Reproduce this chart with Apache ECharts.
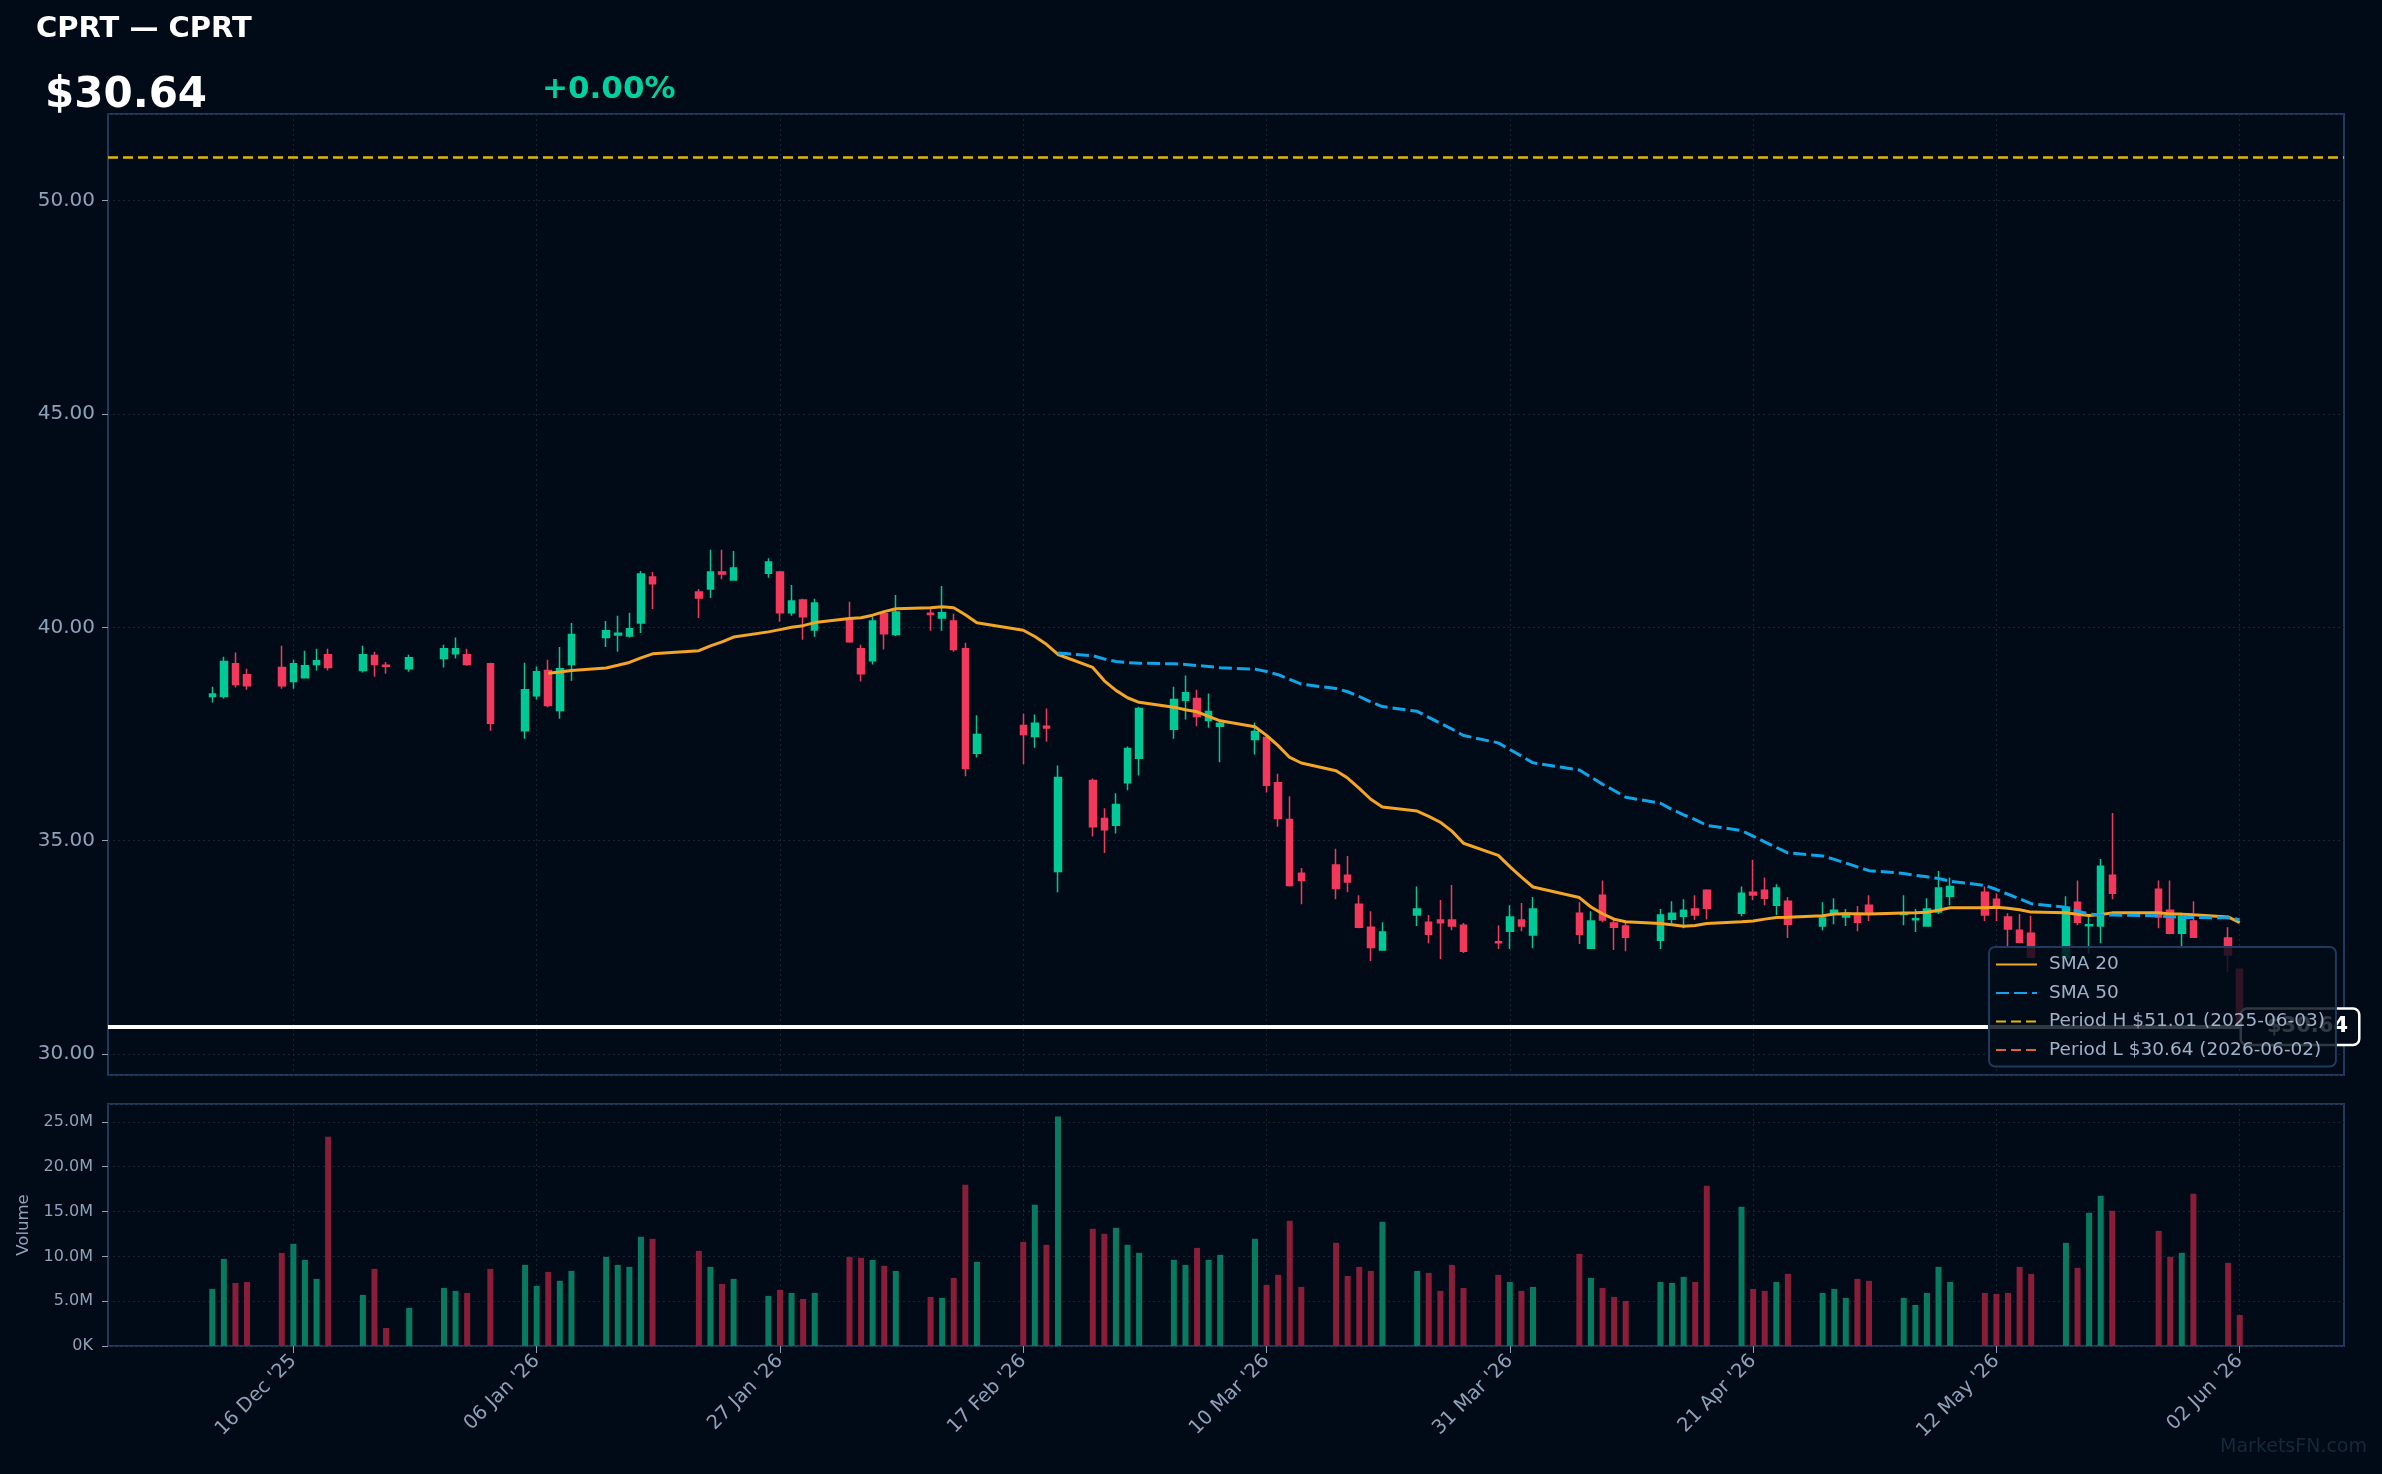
<!DOCTYPE html>
<html>
<head>
<meta charset="utf-8">
<title>CPRT</title>
<script src="https://cdn.jsdelivr.net/npm/echarts@6/dist/echarts.min.js"></script>
<style>
  html, body { margin: 0; padding: 0; background: #010b17; }
  #chart { width: 2382px; height: 1474px; }
</style>
</head>
<body>
<div id="chart"></div>
<script>
// trading days shown on the chart
var tradeDates = [
  '2025-12-09','2025-12-10','2025-12-11','2025-12-12','2025-12-15','2025-12-16','2025-12-17','2025-12-18','2025-12-19',
  '2025-12-22','2025-12-23','2025-12-24','2025-12-26','2025-12-29','2025-12-30','2025-12-31',
  '2026-01-02','2026-01-05','2026-01-06','2026-01-07','2026-01-08','2026-01-09','2026-01-12','2026-01-13','2026-01-14',
  '2026-01-15','2026-01-16','2026-01-20','2026-01-21','2026-01-22','2026-01-23','2026-01-26','2026-01-27','2026-01-28',
  '2026-01-29','2026-01-30',
  '2026-02-02','2026-02-03','2026-02-04','2026-02-05','2026-02-06','2026-02-09','2026-02-10','2026-02-11','2026-02-12',
  '2026-02-13','2026-02-17','2026-02-18','2026-02-19','2026-02-20','2026-02-23','2026-02-24','2026-02-25','2026-02-26',
  '2026-02-27',
  '2026-03-02','2026-03-03','2026-03-04','2026-03-05','2026-03-06','2026-03-09','2026-03-10','2026-03-11','2026-03-12',
  '2026-03-13','2026-03-16','2026-03-17','2026-03-18','2026-03-19','2026-03-20','2026-03-23','2026-03-24','2026-03-25',
  '2026-03-26','2026-03-27','2026-03-30','2026-03-31',
  '2026-04-01','2026-04-02','2026-04-06','2026-04-07','2026-04-08','2026-04-09','2026-04-10','2026-04-13','2026-04-14',
  '2026-04-15','2026-04-16','2026-04-17','2026-04-20','2026-04-21','2026-04-22','2026-04-23','2026-04-24','2026-04-27',
  '2026-04-28','2026-04-29','2026-04-30',
  '2026-05-01','2026-05-04','2026-05-05','2026-05-06','2026-05-07','2026-05-08','2026-05-11','2026-05-12','2026-05-13',
  '2026-05-14','2026-05-15','2026-05-18','2026-05-19','2026-05-20','2026-05-21','2026-05-22','2026-05-26','2026-05-27',
  '2026-05-28','2026-05-29',
  '2026-06-01','2026-06-02'
];

var opens = [
  38.38,38.38,39.15,38.89,39.06,38.73,38.82,39.13,39.36,38.99,39.34,39.11,39.03,39.27,39.38,39.36,
  39.15,37.58,38.40,38.99,38.05,39.13,39.76,39.82,39.80,40.10,41.18,40.83,40.90,41.30,41.11,41.27,41.30,40.34,40.64,39.94,
  40.20,39.50,39.22,40.32,39.83,40.33,40.22,40.15,39.50,37.05,37.70,37.44,37.68,34.28,36.41,35.52,35.36,36.36,36.93,
  37.61,38.29,38.33,37.82,37.68,37.37,37.42,36.36,35.50,34.24,34.43,34.19,33.51,32.97,32.44,33.26,33.09,33.14,33.14,33.02,32.63,32.88,
  33.14,32.79,33.30,32.48,33.72,33.07,33.00,32.67,33.16,33.23,33.40,33.84,33.30,33.79,33.84,33.49,33.58,33.00,33.30,33.21,33.26,
  33.49,33.27,33.15,33.00,33.33,33.70,33.79,33.63,33.21,32.90,32.83,32.25,33.56,33.01,33.00,34.19,33.86,33.37,32.83,33.12,
  32.72,31.99
];
var closes = [
  38.44,39.20,38.66,38.63,38.63,39.15,39.10,39.22,39.06,39.36,39.13,39.09,39.29,39.50,39.50,39.13,
  37.75,38.54,38.96,38.17,39.03,39.83,39.92,39.86,39.97,41.25,41.02,40.69,41.30,41.25,41.39,41.53,40.34,40.62,40.25,40.57,
  39.66,38.91,40.15,39.85,40.36,40.30,40.34,39.48,36.69,37.49,37.49,37.75,37.64,36.48,35.33,35.26,35.85,37.16,38.10,
  38.31,38.47,37.91,38.03,37.75,37.56,36.30,35.52,33.95,34.07,33.88,34.03,32.97,32.50,32.86,33.40,32.81,33.08,33.00,32.41,32.61,33.21,
  33.00,33.40,32.81,33.12,33.14,32.97,32.74,33.26,33.30,33.37,33.26,33.42,33.77,33.73,33.65,33.89,33.04,33.19,33.37,33.30,33.09,
  33.28,33.29,33.17,33.40,33.89,33.93,33.26,33.47,32.93,32.62,32.27,33.44,33.09,33.03,34.40,33.77,33.21,32.83,33.23,32.74,
  32.32,30.64
];
var lows = [
  38.24,38.33,38.59,38.54,38.56,38.56,38.82,38.99,38.99,38.94,38.84,38.91,38.96,39.06,39.27,39.10,
  37.58,37.39,38.31,38.13,37.86,38.75,39.54,39.43,39.76,39.87,40.43,40.22,40.69,41.13,41.09,41.16,40.13,40.27,39.71,39.78,
  39.64,38.73,39.13,39.48,39.80,39.92,39.92,39.43,36.51,36.95,36.79,37.18,37.32,33.79,35.10,34.71,35.17,36.18,36.53,
  37.39,37.84,37.68,37.65,36.84,37.02,36.13,35.33,33.93,33.51,33.63,33.79,32.95,32.18,32.44,33.00,32.60,32.23,32.90,32.37,32.46,32.46,
  32.88,32.48,32.58,32.48,33.09,32.44,32.41,32.46,33.07,32.95,33.14,33.16,33.23,33.61,33.49,33.26,32.72,32.90,33.04,33.00,32.88,
  33.12,33.02,32.86,33.00,33.28,33.49,33.12,33.12,32.53,32.60,32.25,32.15,33.02,32.35,32.60,33.63,32.95,32.81,32.51,32.72,
  31.92,30.64
];
var highs = [
  38.61,39.31,39.41,39.03,39.57,39.24,39.45,39.50,39.50,39.57,39.43,39.19,39.36,39.59,39.76,39.50,
  39.17,39.17,39.08,39.24,39.54,40.10,40.15,40.27,40.34,41.32,41.30,40.90,41.82,41.82,41.79,41.62,41.32,40.99,40.67,40.67,
  40.60,39.59,40.25,40.39,40.76,40.44,40.97,40.32,39.64,37.94,37.98,37.96,38.10,36.76,36.46,35.76,36.11,37.21,38.14,
  38.61,38.87,38.54,38.45,37.82,37.77,37.45,36.57,36.04,34.36,34.81,34.64,33.72,33.35,33.09,33.93,33.26,33.61,33.96,33.07,33.02,33.49,
  33.54,33.68,33.56,33.35,34.07,33.14,33.07,33.40,33.58,33.63,33.72,33.86,33.93,34.55,34.14,33.98,33.68,33.56,33.65,33.40,33.47,
  33.72,33.72,33.40,33.65,34.29,34.14,33.93,33.77,33.30,33.28,33.24,33.70,34.07,33.24,34.57,35.65,34.07,34.07,33.26,33.58,
  32.97,32.00
];
// volume, millions of shares
var volumes = [
  6.37,9.72,7.04,7.15,10.39,11.40,9.61,7.49,23.36,5.70,8.61,2.01,4.25,6.48,6.15,5.92,
  8.61,9.05,6.71,8.27,7.27,8.38,9.95,9.05,8.83,12.18,11.96,10.62,8.83,6.93,7.49,5.59,6.26,5.92,5.25,5.92,
  9.95,9.84,9.61,8.94,8.38,5.48,5.37,7.60,18.00,9.39,11.62,15.76,11.29,25.60,13.08,12.52,13.19,11.29,10.39,
  9.61,9.05,10.95,9.61,10.17,11.96,6.82,7.94,13.97,6.59,11.51,7.82,8.83,8.38,13.86,8.38,8.16,6.15,9.05,6.48,7.94,7.15,
  6.15,6.59,10.28,7.60,6.48,5.48,5.03,7.15,7.04,7.71,7.15,17.88,15.54,6.37,6.15,7.15,8.05,5.92,6.37,5.37,7.49,
  7.27,5.37,4.58,5.92,8.83,7.15,5.92,5.81,5.92,8.83,8.05,11.51,8.72,14.87,16.77,15.09,12.85,9.95,10.39,16.99,
  9.28,3.46
];

var xTickDates = ['2025-12-16','2026-01-06','2026-01-27','2026-02-17','2026-03-10','2026-03-31','2026-04-21','2026-05-12','2026-06-02'];
var axisStart = '2025-11-30', axisEnd = '2026-06-11';

var lastPrice = 30.64;
var periodHigh = 51.01, periodHighDate = '2025-06-03';
var periodLow = 30.64, periodLowDate = '2026-06-02';
var headerTitle = 'CPRT \u2014 CPRT';
var headerPrice = '$30.64';
var headerChange = '+0.00%';

var UP = '#00c896', DOWN = '#f2395b';
var VOL_UP = '#077a5f', VOL_DOWN = '#8a1d37';
var FONT = '"DejaVu Sans", sans-serif';
var LABEL = '#8ea2b9';
var MONTHS = ['Jan','Feb','Mar','Apr','May','Jun','Jul','Aug','Sep','Oct','Nov','Dec'];

function dayList(start, end) {
  var out = [];
  var d = new Date(start + 'T00:00:00Z'), e = new Date(end + 'T00:00:00Z');
  while (d <= e) {
    out.push(d.toISOString().slice(0, 10));
    d.setUTCDate(d.getUTCDate() + 1);
  }
  return out;
}
function fmtDate(s) {
  var p = s.split('-');
  return p[2] + ' ' + MONTHS[+p[1] - 1] + " '" + p[0].slice(2);
}
function sma(n) {
  var out = [];
  for (var i = 0; i < closes.length; i++) {
    if (i < n - 1) { out.push(null); continue; }
    var s = 0;
    for (var j = i - n + 1; j <= i; j++) s += closes[j];
    out.push(s / n);
  }
  return out;
}

var calendar = dayList(axisStart, axisEnd);
var pos = {};
tradeDates.forEach(function (d, i) { pos[d] = i; });

var sma20 = sma(20), sma50 = sma(50);

var candleData = calendar.map(function (d) {
  var i = pos[d];
  return i === undefined ? '-' : [opens[i], closes[i], lows[i], highs[i]];
});
var volData = calendar.map(function (d) {
  var i = pos[d];
  if (i === undefined) return '-';
  return { value: volumes[i] * 1e6, itemStyle: { color: closes[i] >= opens[i] ? VOL_UP : VOL_DOWN } };
});
function onCalendar(arr) {
  return calendar.map(function (d) {
    var i = pos[d];
    return (i === undefined || arr[i] == null) ? '-' : arr[i];
  });
}

function isTick(idx, val) { return xTickDates.indexOf(val) >= 0; }

var gridLine = { show: true, lineStyle: { color: '#142538', type: [2, 3], width: 1 } };

var chart = echarts.init(document.getElementById('chart'), null, { renderer: 'canvas' });

var option = {
  backgroundColor: '#010b17',
  animation: false,
  textStyle: { fontFamily: FONT },
  graphic: [
    { type: 'text', left: 36, top: 15, style: { text: headerTitle, fill: '#ffffff', font: 'bold 29px ' + FONT } },
    { type: 'text', left: 45, top: 75, style: { text: headerPrice, fill: '#ffffff', font: 'bold 42px ' + FONT } },
    { type: 'text', left: 542, top: 74, style: { text: headerChange, fill: '#00d1a0', font: 'bold 31px ' + FONT } },
    { type: 'text', right: 15, top: 1438, style: { text: 'MarketsFN.com', fill: '#17283a', font: '19px ' + FONT } }
  ],
  legend: {
    data: ['SMA 20', 'SMA 50',
           'Period H $' + periodHigh.toFixed(2) + ' (' + periodHighDate + ')',
           'Period L $' + periodLow.toFixed(2) + ' (' + periodLowDate + ')'],
    orient: 'vertical',
    left: 1989, top: 947,
    zlevel: 1,
    itemWidth: 41, itemHeight: 14, itemGap: 9.5,
    padding: [8, 11, 7, 6],
    backgroundColor: 'rgba(2,12,24,0.82)',
    borderColor: '#1f3a5c', borderWidth: 2, borderRadius: 6,
    itemStyle: { opacity: 0 },
    textStyle: { color: '#9fb2c8', fontSize: 18.5, fontFamily: FONT, padding: [0, 0, 0, 7] }
  },
  grid: [
    { left: 108, top: 114, width: 2236, height: 961, show: true, borderColor: '#1f3a5c', borderWidth: 2, backgroundColor: 'transparent' },
    { left: 108, top: 1104, width: 2236, height: 242, show: true, borderColor: '#1f3a5c', borderWidth: 2, backgroundColor: 'transparent' }
  ],
  xAxis: [
    {
      type: 'category', gridIndex: 0, data: calendar, boundaryGap: false,
      axisLine: { show: false }, axisTick: { show: false }, axisLabel: { show: false },
      splitLine: { show: true, interval: isTick, lineStyle: gridLine.lineStyle }
    },
    {
      type: 'category', gridIndex: 1, data: calendar, boundaryGap: false,
      axisLine: { show: false },
      axisTick: { show: true, interval: isTick, length: 7, lineStyle: { color: LABEL, width: 1 } },
      axisLabel: { show: true, interval: isTick, rotate: 45, margin: 12, color: LABEL, fontSize: 19.5, fontFamily: FONT, formatter: fmtDate },
      splitLine: { show: true, interval: isTick, lineStyle: gridLine.lineStyle }
    }
  ],
  yAxis: [
    {
      type: 'value', gridIndex: 0, min: 29.51, max: 52.03, splitNumber: 5, scale: true,
      axisLine: { show: false },
      axisTick: { show: true, length: 6, lineStyle: { color: LABEL } },
      axisLabel: { color: LABEL, fontSize: 20, fontFamily: FONT, margin: 13, showMinLabel: false, showMaxLabel: false,
                   formatter: function (v) { return v.toFixed(2); } },
      splitLine: gridLine
    },
    {
      type: 'value', gridIndex: 1, min: 0, max: 27e6, interval: 5e6,
      name: 'Volume', nameLocation: 'middle', nameGap: 76, nameRotate: 90,
      nameTextStyle: { color: LABEL, fontSize: 16.5, fontFamily: FONT },
      axisLine: { show: false },
      axisTick: { show: true, length: 6, lineStyle: { color: LABEL } },
      axisLabel: { color: LABEL, fontSize: 16, fontFamily: FONT, margin: 15, showMaxLabel: false,
                   formatter: function (v) { return v === 0 ? '0K' : (v / 1e6).toFixed(1) + 'M'; } },
      splitLine: gridLine
    }
  ],
  series: [
    {
      name: 'Period H $' + periodHigh.toFixed(2) + ' (' + periodHighDate + ')',
      type: 'line', xAxisIndex: 0, yAxisIndex: 0, data: [], symbol: 'none',
      lineStyle: { color: '#e2b705', width: 2.5, type: [10, 5] },
      itemStyle: { color: '#e2b705' },
      markLine: { silent: true, symbol: ['none', 'none'], label: { show: false },
                  lineStyle: { color: '#e2b705', width: 2.5, type: [10, 5] },
                  data: [{ yAxis: periodHigh }] }
    },
    {
      name: 'Period L $' + periodLow.toFixed(2) + ' (' + periodLowDate + ')',
      type: 'line', xAxisIndex: 0, yAxisIndex: 0, data: [], symbol: 'none',
      lineStyle: { color: '#e0603c', width: 2.5, type: [10, 5] },
      itemStyle: { color: '#e0603c' },
      markLine: { silent: true, symbol: ['none', 'none'], label: { show: false },
                  lineStyle: { color: '#e0603c', width: 2.5, type: [10, 5] },
                  data: [{ yAxis: periodLow }] }
    },
    {
      name: 'CPRT', type: 'candlestick', xAxisIndex: 0, yAxisIndex: 0,
      data: candleData, barWidth: 7,
      itemStyle: { color: UP, color0: DOWN, borderColor: UP, borderColor0: DOWN, borderWidth: 1.5 },
      markLine: {
        silent: true, symbol: ['none', 'none'],
        lineStyle: { color: '#ffffff', width: 4, type: 'solid' },
        label: {
          show: true, position: 'end', distance: -102,
          formatter: '$' + lastPrice.toFixed(2),
          color: '#ffffff', fontWeight: 'bold', fontSize: 21, fontFamily: FONT,
          backgroundColor: '#010b17', borderColor: '#ffffff', borderWidth: 2.5, borderRadius: 5,
          padding: [7, 10, 6, 25]
        },
        data: [{ yAxis: lastPrice }]
      }
    },
    {
      name: 'SMA 20', type: 'line', xAxisIndex: 0, yAxisIndex: 0,
      data: onCalendar(sma20), connectNulls: true, symbol: 'none',
      lineStyle: { color: '#f5a524', width: 3 }, itemStyle: { color: '#f5a524' }
    },
    {
      name: 'SMA 50', type: 'line', xAxisIndex: 0, yAxisIndex: 0,
      data: onCalendar(sma50), connectNulls: true, symbol: 'none',
      lineStyle: { color: '#0ea5e9', width: 3, type: [13, 5] }, itemStyle: { color: '#0ea5e9' }
    },
    {
      name: 'Volume', type: 'bar', xAxisIndex: 1, yAxisIndex: 1,
      data: volData, barWidth: 6
    }
  ]
};

chart.setOption(option);
</script>
</body>
</html>
